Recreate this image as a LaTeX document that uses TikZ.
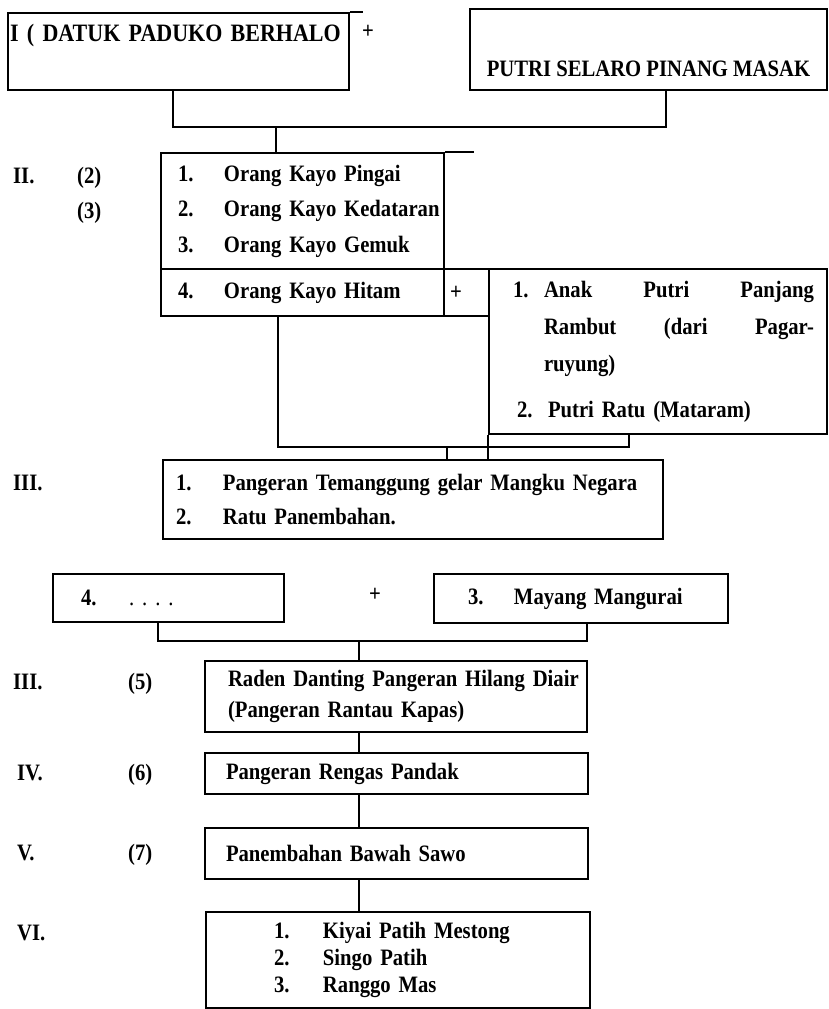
\documentclass[tikz,border=0pt]{standalone}
\usepackage{fontspec}
\setmainfont[FakeStretch=0.88]{Liberation Serif}
\newcommand{\nr}[3]{\mbox{\makebox[#1][l]{#2}#3}}

\begin{document}
\begin{tikzpicture}[x=1pt,y=-1pt,
  box/.style={draw,line width=2pt,anchor=north west,inner ysep=0pt,align=left,
    font=\fontsize{23.5}{25}\selectfont\bfseries},
  rows/.style={font=\fontsize{23.5}{#1}\selectfont\bfseries},
  lbl/.style={anchor=base west,inner sep=0pt,font=\fontsize{23.5}{25}\selectfont\bfseries},
  conn/.style={line width=2pt}]
\useasboundingbox (0,0) rectangle (828,1009);

\node[box,minimum width=341pt,minimum height=77pt,inner xsep=2pt,text width=337pt,
  text height=28pt,text depth=49pt,font=\fontsize{25}{25}\selectfont\bfseries]
  (datuk) at (7,12) {I ( DATUK PADUKO BERHALO};
\node[lbl,anchor=center] (plus1) at (368,32) {+};
\node[box,minimum width=357pt,minimum height=81pt,inner xsep=0pt,
  text height=67pt,text depth=14pt] (putri) at (469,8) {PUTRI SELARO PINANG MASAK};

\node[box,rows=35.5,minimum width=283pt,minimum height=116pt,inner xsep=17pt,text width=249pt]
  (anak) at (160,152) {\nr{46pt}{1.}{Orang Kayo Pingai}\\
  \nr{46pt}{2.}{Orang Kayo Kedataran}\\
  \nr{46pt}{3.}{Orang Kayo Gemuk}};
\node[box,minimum width=283pt,minimum height=47pt,inner xsep=17pt,text width=249pt]
  (hitam) at (160,268) {\nr{46pt}{4.}{Orang Kayo Hitam}};
\node[box,minimum width=45pt,minimum height=47pt,inner xsep=6pt,text width=33pt]
  (tambah) at (443,268) {+};
\node[box,rows=37,minimum width=338pt,minimum height=165pt,inner xsep=24pt,text width=290pt]
  (istri) at (488,268) {\makebox[31pt][l]{1.}\makebox[270pt][s]{Anak\hfill Putri\hfill Panjang}\\
  \hspace*{31pt}\makebox[270pt][s]{Rambut\hfill (dari\hfill Pagar-}\\
  \hspace*{31pt}ruyung)\\[9pt]
  \hspace*{4pt}\makebox[31pt][l]{2.}Putri Ratu (Mataram)};

\node[box,rows=34,minimum width=500pt,minimum height=79pt,inner xsep=13pt,text width=474pt]
  (temenggung) at (162,459) {\nr{47pt}{1.}{Pangeran Temanggung gelar Mangku Negara}\\
  \nr{47pt}{2.}{Ratu Panembahan.}};

\node[box,minimum width=231pt,minimum height=48pt,inner xsep=28pt,text width=175pt]
  (empat) at (52,573) {\nr{48pt}{4.}{\mdseries.\hspace{8pt}.\hspace{8pt}.\hspace{8pt}.}};
\node[lbl,anchor=center] (plus2) at (375,595) {+};
\node[box,minimum width=294pt,minimum height=49pt,inner xsep=34pt,text width=226pt]
  (mayang) at (433,573) {\nr{46pt}{3.}{Mayang Mangurai}};

\node[box,rows=31,minimum width=382pt,minimum height=71pt,inner xsep=23pt,text width=336pt]
  (raden) at (204,660) {\mbox{Raden Danting Pangeran Hilang Diair}\\
  (Pangeran Rantau Kapas)};
\node[box,minimum width=383pt,minimum height=41pt,inner xsep=21pt,text width=341pt]
  (rengas) at (204,752) {Pangeran Rengas Pandak};
\node[box,minimum width=383pt,minimum height=51pt,inner xsep=21pt,text width=341pt]
  (sawo) at (204,827) {Panembahan Bawah Sawo};
\node[box,rows=27,minimum width=384pt,minimum height=96pt,inner xsep=68pt,text width=248pt]
  (cucu) at (205,911) {\nr{49pt}{1.}{Kiyai Patih Mestong}\\
  \nr{49pt}{2.}{Singo Patih}\\
  \nr{49pt}{3.}{Ranggo Mas}};

\node[lbl] (lII) at (13,183) {II.};
\node[lbl] (l2) at (77,183) {(2)};
\node[lbl] (l3) at (77,218) {(3)};
\node[lbl] (lIII) at (13,490) {III.};
\node[lbl] (lIIIb) at (13,689) {III.};
\node[lbl] (l5) at (128,689) {(5)};
\node[lbl] (lIV) at (17,780) {IV.};
\node[lbl] (l6) at (128,780) {(6)};
\node[lbl] (lV) at (17,860) {V.};
\node[lbl] (l7) at (128,860) {(7)};
\node[lbl] (lVI) at (17,940) {VI.};

\draw[conn] (datuk.north east) -- ++(13,0);
\draw[conn] (anak.north east) -- ++(29,0);

\coordinate (k1) at (276,127);
\draw[conn] ([xshift=-5.5pt]datuk.south) |- (k1) -| ([xshift=17.5pt]putri.south);
\draw[conn] (k1) -- (k1 |- anak.north);

\coordinate (k2) at (447,447);
\draw[conn] ([xshift=-24.5pt]hitam.south) |- (k2) -| ([xshift=-29pt]istri.south);
\draw[conn] (k2) -- (k2 |- temenggung.north);
\draw[conn] (istri.south west) -- (istri.south west |- temenggung.north);

\coordinate (k3) at (359,641);
\draw[conn] ([xshift=-10.5pt]empat.south) |- (k3) -| ([xshift=6pt]mayang.south);
\draw[conn] (k3) -- (k3 |- raden.north);
\foreach \a/\b in {raden/rengas,rengas/sawo,sawo/cucu}
  \draw[conn] (k3 |- \a.south) -- (k3 |- \b.north);
\end{tikzpicture}
\end{document}
